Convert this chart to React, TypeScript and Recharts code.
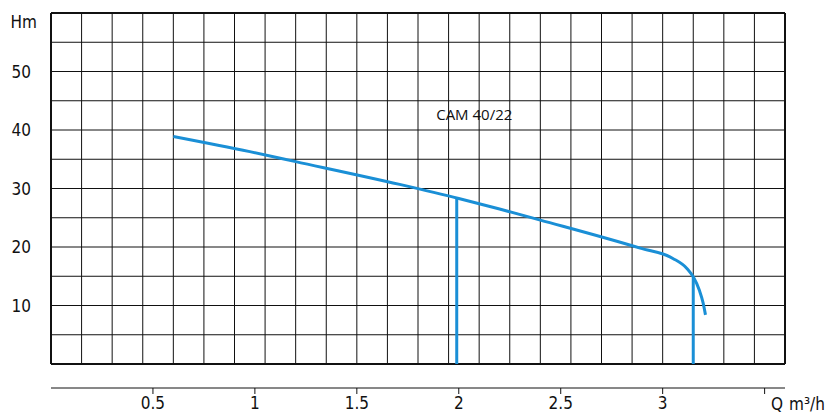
import React from "react";
import {
  ComposedChart,
  Line,
  XAxis,
  YAxis,
  ReferenceLine,
  ReferenceDot,
} from "recharts";

// Pump curve CAM 40/22: flow Q (m³/h) vs head H (m)
const qValues = [0.6, 0.975, 1.2, 1.71, 2.0, 2.2, 2.4, 2.89, 3.05, 3.12, 3.15, 3.18, 3.198, 3.21];
const headValues = [38.9, 36.3, 34.6, 30.7, 28.3, 26.5, 24.6, 19.8, 18.05, 16.3, 14.9, 12.6, 10.5, 8.4];

// operating markers (vertical drop lines)
const markerQ = [1.99, 3.15];
const markerH = [28.4, 14.9];

// grid
const xGrid = [0.15, 0.3, 0.45, 0.6, 0.75, 0.9, 1.05, 1.2, 1.35, 1.5, 1.65, 1.8, 1.95, 2.1, 2.25, 2.4, 2.55, 2.7, 2.85, 3.0, 3.15, 3.3, 3.45];
const yGrid = [5, 10, 15, 20, 25, 30, 35, 40, 45, 50, 55];
const xBorder = [0, 3.6];
const yBorder = [0, 60];

// ticks
const xTicks = [0.5, 1, 1.5, 2, 2.5, 3, 3.5];
const xTickLabels = ["0.5", "1", "1.5", "2", "2.5", "3", ""];
const yTicks = [10, 20, 30, 40, 50, 60];
const yTickLabels = ["10", "20", "30", "40", "50", "Hm"];

const curveName = "CAM 40/22";
const curveLabelQ = 2.076;
const curveLabelH = 42.6;

const data = qValues.map((q, i) => ({ q, h: headValues[i] }));

const BLUE = "#1a8fd6";
const AXIS_FONT = "'DejaVu Sans', sans-serif";
const AXIS_SIZE = 17;

const YTick = (props: any) => {
  const { x, y, payload } = props;
  const idx = yTicks.indexOf(payload.value);
  const label = idx >= 0 ? yTickLabels[idx] : String(payload.value);
  const isUnit = label === "Hm";
  return (
    <text
      x={x + (isUnit ? 6 : 0)}
      y={y + (isUnit ? 9 : 0)}
      textAnchor="end"
      dominantBaseline="central"
      fontFamily={AXIS_FONT}
      fontSize={AXIS_SIZE}
      fill="#111"
      style={{ fontStretch: "condensed" }}
    >
      {label}
    </text>
  );
};

const XTick = (props: any) => {
  const { x, y, payload } = props;
  const i = xTicks.indexOf(payload.value);
  const label = i >= 0 ? xTickLabels[i] : String(payload.value);
  return (
    <text
      x={x}
      y={y}
      dy="0.71em"
      textAnchor="middle"
      fontFamily={AXIS_FONT}
      fontSize={AXIS_SIZE}
      fill="#111"
      style={{ fontStretch: "condensed" }}
    >
      {label}
    </text>
  );
};

const XUnitLabel = (props: any) => {
  const vb = props.viewBox || { x: 51, y: 388, width: 734, height: 26 };
  return (
    <text
      x={vb.x + vb.width - 14}
      y={vb.y + 22}
      fontFamily={AXIS_FONT}
      fontSize={AXIS_SIZE}
      fill="#111"
      style={{ fontStretch: "condensed" }}
    >
      <tspan>Q</tspan>
      <tspan dx={6}>m³/h</tspan>
    </text>
  );
};

export default function App() {
  return (
    <div style={{ position: "absolute", left: 0, top: 0 }}>
      <ComposedChart
        width={830}
        height={414}
        data={data}
        margin={{ top: 13, right: 45, bottom: 0, left: 0 }}
      >
        <XAxis
          type="number"
          dataKey="q"
          domain={[0, 3.6]}
          ticks={xTicks}
          height={26}
          tickSize={6}
          tickMargin={3}
          allowDataOverflow
          axisLine={{ stroke: "#111", strokeWidth: 1 }}
          tickLine={{ stroke: "#111", strokeWidth: 1 }}
          tick={<XTick />}
          label={{ content: (p: any) => <XUnitLabel {...p} /> }}
        />
        <YAxis
          type="number"
          domain={[-4.1, 60]}
          ticks={yTicks}
          width={51}
          axisLine={false}
          tickLine={false}
          tickSize={0}
          tickMargin={20}
          allowDataOverflow
          tick={<YTick />}
        />
        {yGrid.map((v) => (
          <ReferenceLine key={"hy" + v} y={v} stroke="#111" strokeWidth={1} />
        ))}
        {xGrid.map((v) => (
          <ReferenceLine
            key={"vx" + v}
            segment={[
              { x: v, y: 0 },
              { x: v, y: 60 },
            ]}
            stroke="#111"
            strokeWidth={1}
          />
        ))}
        {yBorder.map((v) => (
          <ReferenceLine key={"by" + v} y={v} stroke="#111" strokeWidth={2} />
        ))}
        {xBorder.map((v) => (
          <ReferenceLine
            key={"bx" + v}
            segment={[
              { x: v, y: 0 },
              { x: v, y: 60 },
            ]}
            stroke="#111"
            strokeWidth={2}
          />
        ))}
        {markerQ.map((q, i) => (
          <ReferenceLine
            key={"m" + q}
            segment={[
              { x: q, y: 0 },
              { x: q, y: markerH[i] },
            ]}
            stroke={BLUE}
            strokeWidth={3}
          />
        ))}
        <ReferenceDot
          x={curveLabelQ}
          y={curveLabelH}
          r={0}
          fill="none"
          stroke="none"
          label={{
            value: curveName,
            position: "center",
            fontFamily: "'Open Sans', sans-serif",
            fontSize: 15,
            fill: "#111",
          }}
        />
        <Line
          type="monotone"
          dataKey="h"
          stroke={BLUE}
          strokeWidth={3}
          dot={false}
          activeDot={false}
          isAnimationActive={false}
        />
      </ComposedChart>
    </div>
  );
}
